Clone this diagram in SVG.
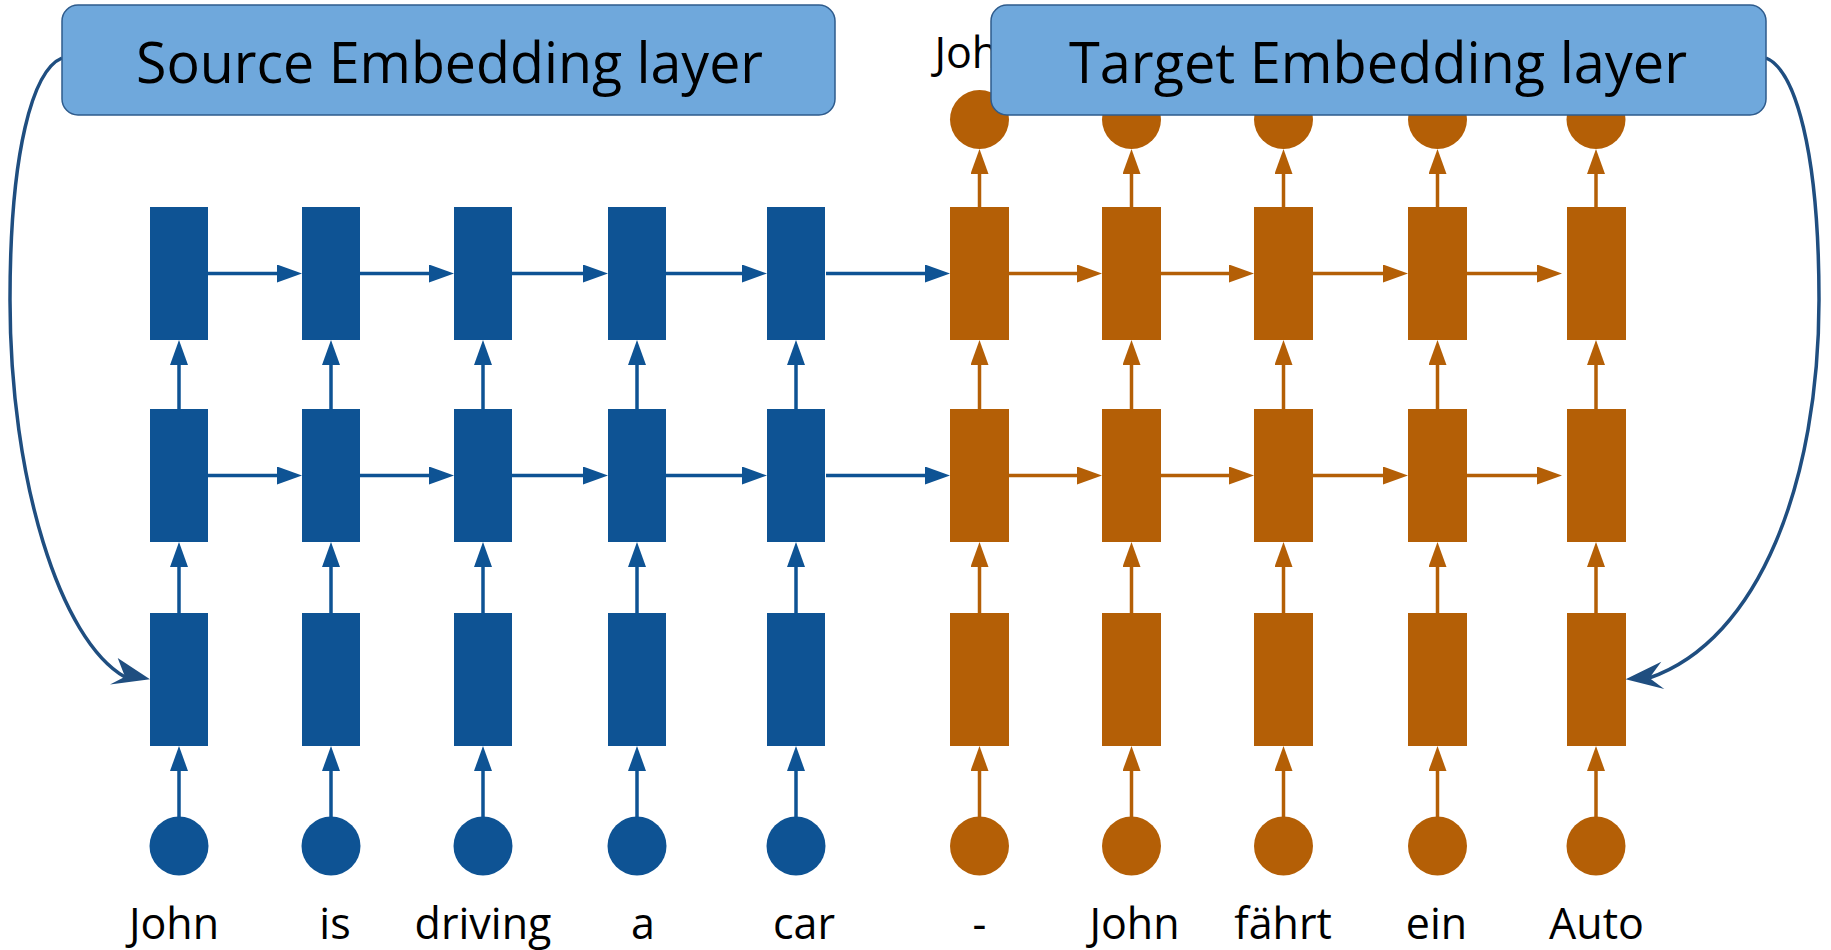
<svg xmlns="http://www.w3.org/2000/svg" width="1831" height="950" viewBox="0 0 1831 950">
<style>
.b{fill:#0E5394}
.o{fill:#B45F06}
.bl{stroke:#0E5394;stroke-width:3.5;fill:none;marker-end:url(#ab)}
.ol{stroke:#B45F06;stroke-width:3.5;fill:none;marker-end:url(#ao)}
.hdr{fill:#6FA8DC;stroke:#2E5B8C;stroke-width:1.5}
.ht{font-family:"Open Sans","Liberation Sans",sans-serif;font-size:56px;fill:#000;text-anchor:middle}
.lb{font-family:"Open Sans","Liberation Sans",sans-serif;font-size:43px;fill:#000;text-anchor:middle}
.cv{stroke:#1F4E80;stroke-width:3.5;fill:none}
.ch{fill:#1F4E80}
</style>
<defs>
<marker id="ab" markerUnits="userSpaceOnUse" markerWidth="25" markerHeight="18" refX="0" refY="9" orient="auto"><path d="M0,0 L25,9 L0,18 z" fill="#0E5394"/></marker>
<marker id="ao" markerUnits="userSpaceOnUse" markerWidth="25" markerHeight="18" refX="0" refY="9" orient="auto"><path d="M0,0 L25,9 L0,18 z" fill="#B45F06"/></marker>
</defs>
<rect width="1831" height="950" fill="#fff"/>

<g id="connectors">
<!-- blue horizontal top row -->
<line class="bl" x1="208" y1="273.5" x2="277" y2="273.5"/>
<line class="bl" x1="360" y1="273.5" x2="429" y2="273.5"/>
<line class="bl" x1="512" y1="273.5" x2="583" y2="273.5"/>
<line class="bl" x1="666" y1="273.5" x2="742" y2="273.5"/>
<line class="bl" x1="826" y1="273.5" x2="925" y2="273.5"/>
<!-- blue horizontal middle row -->
<line class="bl" x1="208" y1="475.5" x2="277" y2="475.5"/>
<line class="bl" x1="360" y1="475.5" x2="429" y2="475.5"/>
<line class="bl" x1="512" y1="475.5" x2="583" y2="475.5"/>
<line class="bl" x1="666" y1="475.5" x2="742" y2="475.5"/>
<line class="bl" x1="826" y1="475.5" x2="925" y2="475.5"/>
<!-- orange horizontal -->
<line class="ol" x1="1009" y1="273.5" x2="1077" y2="273.5"/>
<line class="ol" x1="1161" y1="273.5" x2="1229" y2="273.5"/>
<line class="ol" x1="1313" y1="273.5" x2="1383" y2="273.5"/>
<line class="ol" x1="1467" y1="273.5" x2="1537" y2="273.5"/>
<line class="ol" x1="1009" y1="475.5" x2="1077" y2="475.5"/>
<line class="ol" x1="1161" y1="475.5" x2="1229" y2="475.5"/>
<line class="ol" x1="1313" y1="475.5" x2="1383" y2="475.5"/>
<line class="ol" x1="1467" y1="475.5" x2="1537" y2="475.5"/>
<!-- blue vertical -->
<g>
<line class="bl" x1="179" y1="817" x2="179" y2="771"/><line class="bl" x1="179" y1="613" x2="179" y2="567"/><line class="bl" x1="179" y1="409" x2="179" y2="365"/>
<line class="bl" x1="331" y1="817" x2="331" y2="771"/><line class="bl" x1="331" y1="613" x2="331" y2="567"/><line class="bl" x1="331" y1="409" x2="331" y2="365"/>
<line class="bl" x1="483" y1="817" x2="483" y2="771"/><line class="bl" x1="483" y1="613" x2="483" y2="567"/><line class="bl" x1="483" y1="409" x2="483" y2="365"/>
<line class="bl" x1="637" y1="817" x2="637" y2="771"/><line class="bl" x1="637" y1="613" x2="637" y2="567"/><line class="bl" x1="637" y1="409" x2="637" y2="365"/>
<line class="bl" x1="796" y1="817" x2="796" y2="771"/><line class="bl" x1="796" y1="613" x2="796" y2="567"/><line class="bl" x1="796" y1="409" x2="796" y2="365"/>
</g>
<!-- orange vertical -->
<g>
<line class="ol" x1="979.5" y1="817" x2="979.5" y2="771"/><line class="ol" x1="979.5" y1="613" x2="979.5" y2="567"/><line class="ol" x1="979.5" y1="409" x2="979.5" y2="365"/><line class="ol" x1="979.5" y1="207" x2="979.5" y2="174"/>
<line class="ol" x1="1131.5" y1="817" x2="1131.5" y2="771"/><line class="ol" x1="1131.5" y1="613" x2="1131.5" y2="567"/><line class="ol" x1="1131.5" y1="409" x2="1131.5" y2="365"/><line class="ol" x1="1131.5" y1="207" x2="1131.5" y2="174"/>
<line class="ol" x1="1283.5" y1="817" x2="1283.5" y2="771"/><line class="ol" x1="1283.5" y1="613" x2="1283.5" y2="567"/><line class="ol" x1="1283.5" y1="409" x2="1283.5" y2="365"/><line class="ol" x1="1283.5" y1="207" x2="1283.5" y2="174"/>
<line class="ol" x1="1437.5" y1="817" x2="1437.5" y2="771"/><line class="ol" x1="1437.5" y1="613" x2="1437.5" y2="567"/><line class="ol" x1="1437.5" y1="409" x2="1437.5" y2="365"/><line class="ol" x1="1437.5" y1="207" x2="1437.5" y2="174"/>
<line class="ol" x1="1596" y1="817" x2="1596" y2="771"/><line class="ol" x1="1596" y1="613" x2="1596" y2="567"/><line class="ol" x1="1596" y1="409" x2="1596" y2="365"/><line class="ol" x1="1596" y1="207" x2="1596" y2="174"/>
</g>
<!-- curved connectors -->
<path class="cv" d="M62,58 C33,70 10,150 10,300 C10,480 60,640 125,677"/>
<path class="ch" d="M150,679.3 L117.7,658 L125,676.7 L110,684.5 z"/>
<path class="cv" d="M1766,58 C1795,70 1819,150 1819,300 C1819,480 1760,640 1649,678"/>
<path class="ch" d="M1625.6,679.3 L1661.3,661.7 L1649.4,678 L1664.3,689 z"/>
</g>

<g id="src-john"><rect class="b" x="150" y="207" width="58" height="133"/><rect class="b" x="150" y="409" width="58" height="133"/><rect class="b" x="150" y="613" width="58" height="133"/><circle class="b" cx="179" cy="846" r="29.5"/><text class="lb" x="174" y="939">John</text></g>
<g id="src-is"><rect class="b" x="302" y="207" width="58" height="133"/><rect class="b" x="302" y="409" width="58" height="133"/><rect class="b" x="302" y="613" width="58" height="133"/><circle class="b" cx="331" cy="846" r="29.5"/><text class="lb" x="335" y="939">is</text></g>
<g id="src-driving"><rect class="b" x="454" y="207" width="58" height="133"/><rect class="b" x="454" y="409" width="58" height="133"/><rect class="b" x="454" y="613" width="58" height="133"/><circle class="b" cx="483" cy="846" r="29.5"/><text class="lb" x="483" y="939">driving</text></g>
<g id="src-a"><rect class="b" x="608" y="207" width="58" height="133"/><rect class="b" x="608" y="409" width="58" height="133"/><rect class="b" x="608" y="613" width="58" height="133"/><circle class="b" cx="637" cy="846" r="29.5"/><text class="lb" x="643" y="939">a</text></g>
<g id="src-car"><rect class="b" x="767" y="207" width="58" height="133"/><rect class="b" x="767" y="409" width="58" height="133"/><rect class="b" x="767" y="613" width="58" height="133"/><circle class="b" cx="796" cy="846" r="29.5"/><text class="lb" x="804" y="939">car</text></g>

<g id="tgt-dash"><text class="lb" x="979.5" y="68">John</text><circle class="o" cx="979.5" cy="119.5" r="29.5"/><rect class="o" x="950" y="207" width="59" height="133"/><rect class="o" x="950" y="409" width="59" height="133"/><rect class="o" x="950" y="613" width="59" height="133"/><circle class="o" cx="979.5" cy="846" r="29.5"/><text class="lb" x="979.5" y="939">-</text></g>
<g id="tgt-john"><circle class="o" cx="1131.5" cy="119.5" r="29.5"/><rect class="o" x="1102" y="207" width="59" height="133"/><rect class="o" x="1102" y="409" width="59" height="133"/><rect class="o" x="1102" y="613" width="59" height="133"/><circle class="o" cx="1131.5" cy="846" r="29.5"/><text class="lb" x="1134.5" y="939">John</text></g>
<g id="tgt-faehrt"><circle class="o" cx="1283.5" cy="119.5" r="29.5"/><rect class="o" x="1254" y="207" width="59" height="133"/><rect class="o" x="1254" y="409" width="59" height="133"/><rect class="o" x="1254" y="613" width="59" height="133"/><circle class="o" cx="1283.5" cy="846" r="29.5"/><text class="lb" x="1283" y="939">fährt</text></g>
<g id="tgt-ein"><circle class="o" cx="1437.5" cy="119.5" r="29.5"/><rect class="o" x="1408" y="207" width="59" height="133"/><rect class="o" x="1408" y="409" width="59" height="133"/><rect class="o" x="1408" y="613" width="59" height="133"/><circle class="o" cx="1437.5" cy="846" r="29.5"/><text class="lb" x="1436.5" y="939">ein</text></g>
<g id="tgt-auto"><circle class="o" cx="1596" cy="119.5" r="29.5"/><rect class="o" x="1567" y="207" width="59" height="133"/><rect class="o" x="1567" y="409" width="59" height="133"/><rect class="o" x="1567" y="613" width="59" height="133"/><circle class="o" cx="1596" cy="846" r="29.5"/><text class="lb" x="1596.5" y="939">Auto</text></g>

<g id="source-embedding"><rect class="hdr" x="62" y="5" width="773" height="110" rx="16"/><text class="ht" x="449.5" y="83" textLength="627" lengthAdjust="spacingAndGlyphs">Source Embedding layer</text></g>
<g id="target-embedding"><rect class="hdr" x="991" y="5" width="775" height="110" rx="16"/><text class="ht" x="1378" y="83" textLength="618" lengthAdjust="spacingAndGlyphs">Target Embedding layer</text></g>
</svg>
